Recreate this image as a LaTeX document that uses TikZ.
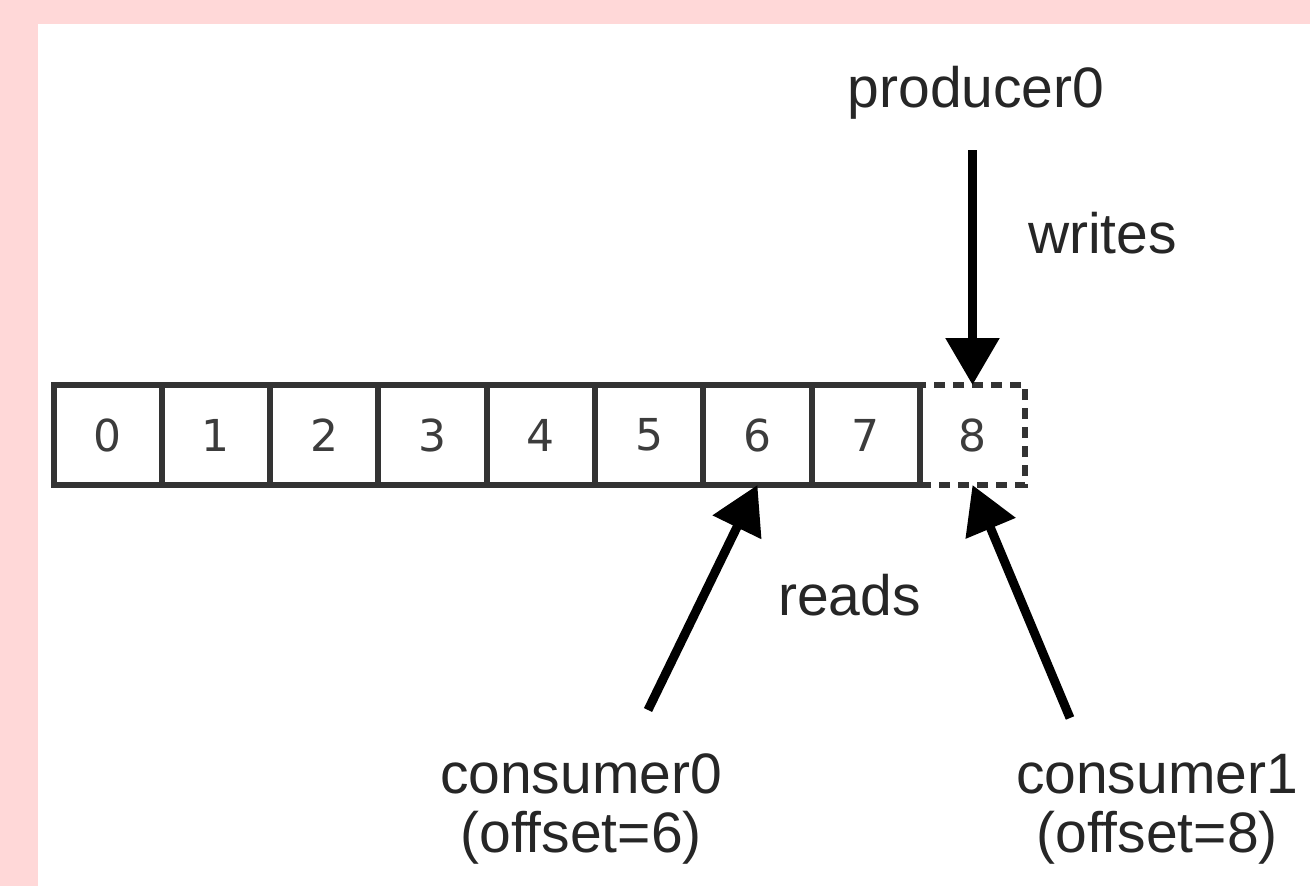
\documentclass[tikz,border=0pt]{standalone}
\usepackage{fontspec}
\setmainfont{Liberation Sans}
\newfontfamily\digitfont{DejaVu Sans}
\usetikzlibrary{arrows.meta}
\definecolor{pinkbg}{HTML}{FFD8D8}
\definecolor{txt}{HTML}{262626}
\definecolor{digit}{HTML}{3C3C3C}
\definecolor{cellline}{HTML}{333333}
\tikzset{
  cell/.style={draw=cellline, line width=6pt, minimum width=108.3pt, minimum height=100pt,
    inner sep=0pt, outer sep=0pt, text=digit, font=\digitfont\fontsize{44}{46}\selectfont},
  newcell/.style={cell, dash pattern=on 11pt off 8pt, minimum width=105pt},
  lab/.style={text=txt, font=\fontsize{57}{59}\selectfont, inner sep=0pt, align=center},
  bigarrow/.style={line width=9pt, -{Triangle[width=52pt,length=47pt]}, black}
}
\begin{document}
\begin{tikzpicture}[x=1pt,y=-1pt]
  \fill[pinkbg] (0,0) rectangle (1310,886);
  \fill[white] (38,24) rectangle (1310,886);
  \useasboundingbox (0,0) rectangle (1310,886);
  % cells
  \foreach \i in {0,...,7} {
    \node[cell] (c\i) at ({53.5+108.3*(\i+0.5)},435) {\i};
  }
  \node[newcell] (c8) at (972.5,435) {8};
  % labels
  \node[lab, anchor=base] (prod) at (976,107) {producer0};
  \node[lab, anchor=base west] (writes) at (1028,253) {writes};
  \node[lab, anchor=base west] (reads) at (778,615) {reads};
  \node[lab, anchor=base] (cons0) at (581,852) {consumer0\\(offset=6)};
  \node[lab, anchor=base] (cons1) at (1157,852) {consumer1\\(offset=8)};
  % arrows
  \coordinate (ptail) at (972.5,150);
  \coordinate (c0tail) at (648,710);
  \coordinate (c1tail) at (1070,718);
  \draw[bigarrow] (ptail) -- (c8.north);
  \draw[bigarrow] (c0tail) -- (c6.south);
  \draw[bigarrow] (c1tail) -- (c8.south);
\end{tikzpicture}
\end{document}
